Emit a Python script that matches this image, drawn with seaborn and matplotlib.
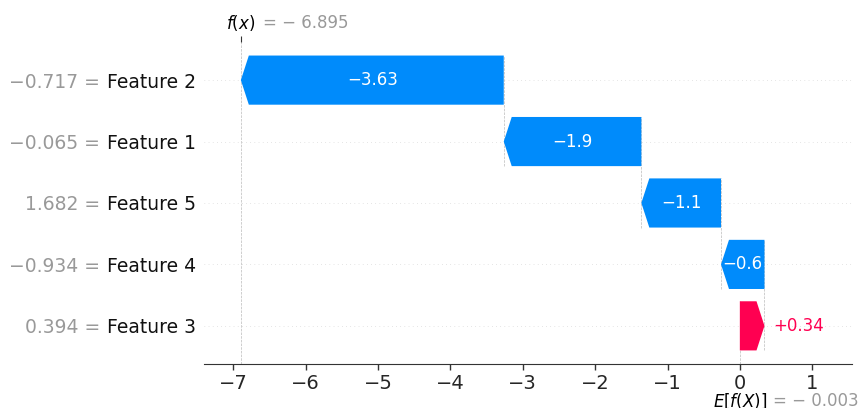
import matplotlib
matplotlib.use("Agg")
import matplotlib.pyplot as plt
import seaborn as sns
import numpy as np

# rows listed bottom -> top
features = ["Feature 3", "Feature 4", "Feature 5", "Feature 1", "Feature 2"]
feature_values = ["0.394", "\u22120.934", "1.682", "\u22120.065", "\u22120.717"]
shap_values = [0.34, -0.6, -1.1, -1.9, -3.63]
base_value = -0.003
fx_value = -6.895
x_ticks = [-7, -6, -5, -4, -3, -2, -1, 0, 1]

POS = "#ff0051"
NEG = "#008bfb"


def fmt_eq(v):
    sign = "\u2212 " if v < 0 else ""
    return f"= {sign}{abs(v):.3f}"


sns.set_style("white")
fig, ax = plt.subplots(figsize=(8.65, 4.08), dpi=100)
fig.subplots_adjust(left=0.236, right=0.985, bottom=0.108, top=0.897)

n = len(features)
ax.set_xlim(-7.40, 1.546)
ax.set_ylim(-0.62, n - 1 + 0.62)

vals = np.array(shap_values)
ends = base_value + np.cumsum(vals)
starts = ends - vals
bar_h = 0.8
head = 0.11

# horizontal guide lines
for i in range(n):
    ax.axhline(i, color="#cccccc", lw=0.5, dashes=(1, 5), zorder=-1)

# arrows
for i, (s, e, v) in enumerate(zip(starts, ends, vals)):
    hl = min(head, abs(v))
    if v < 0:
        xs = [s, s, e + hl, e, e + hl]
        col = NEG
    else:
        xs = [s, s, e - hl, e, e - hl]
        col = POS
    ys = [i - bar_h / 2, i + bar_h / 2, i + bar_h / 2, i, i - bar_h / 2]
    ax.fill(xs, ys, color=col, lw=0, zorder=2)

    label = f"{v:+g}".replace("-", "\u2212")
    if abs(v) > 0.5:
        ax.text((s + e) / 2, i, label, color="white", fontsize=12,
                ha="center", va="center", zorder=3)
    else:
        ax.annotate(label, xy=(e, i), xytext=(6, 0), textcoords="offset points",
                    color=col, fontsize=12, ha="left", va="center")

# connector lines between consecutive arrows
for i in range(1, n):
    ax.plot([starts[i], starts[i]], [i - 1 - 0.4, i + 0.4],
            color="#bbbbbb", ls="--", lw=0.5, zorder=-1)
ax.plot([base_value, base_value], [-0.62, 0.4], color="#bbbbbb", ls="--", lw=0.5, zorder=-1)
ax.axvline(fx_value, color="#bbbbbb", ls="--", lw=0.5, zorder=-1)

# y labels: feature names as ticks, gray values placed to their left
ax.set_yticks(range(n))
ax.set_yticklabels(features, fontsize=13.5, color="#111111")
ax.tick_params(axis="y", length=0, pad=6)

ax.set_xticks(x_ticks)
ax.tick_params(axis="x", labelsize=14, length=4, width=1, color="#333333",
               direction="out", bottom=True)
sns.despine(ax=ax, left=True, top=True, right=True)
ax.spines["bottom"].set_color("#333333")

# f(x) marker at top
ax_top = ax.twiny()
ax_top.set_xlim(ax.get_xlim())
ax_top.set_xticks([fx_value])
ax_top.set_xticklabels([""])
ax_top.tick_params(axis="x", length=4, color="#333333", direction="out")
sns.despine(ax=ax_top, left=True, top=True, right=True, bottom=True)

fig.canvas.draw()
renderer = fig.canvas.get_renderer()
inv = fig.transFigure.inverted()
for i, t in enumerate(ax.get_yticklabels()):
    bb = t.get_window_extent(renderer)
    x0 = inv.transform((bb.x0, bb.y0))[0]
    y_fig = inv.transform(ax.transData.transform((0, i)))[1]
    fig.text(x0 - 0.008, y_fig, f"{feature_values[i]} =", fontsize=13.5,
             color="#999999", ha="right", va="center_baseline")

ax.annotate("$f(x)$", xy=(fx_value, 1), xycoords=("data", "axes fraction"),
            xytext=(0, 14), textcoords="offset points", ha="center", va="center",
            fontsize=12, color="black")
ax.annotate(fmt_eq(fx_value), xy=(fx_value, 1), xycoords=("data", "axes fraction"),
            xytext=(16, 14), textcoords="offset points", ha="left", va="center",
            fontsize=12, color="#999999")

ax.annotate("$E[f(X)]$", xy=(base_value, 0), xycoords=("data", "axes fraction"),
            xytext=(0, -27), textcoords="offset points", ha="center", va="center",
            fontsize=12, color="black")
ax.annotate(fmt_eq(base_value), xy=(base_value, 0), xycoords=("data", "axes fraction"),
            xytext=(24, -27), textcoords="offset points", ha="left", va="center",
            fontsize=12, color="#999999")

fig.savefig("out.png", dpi=100)
